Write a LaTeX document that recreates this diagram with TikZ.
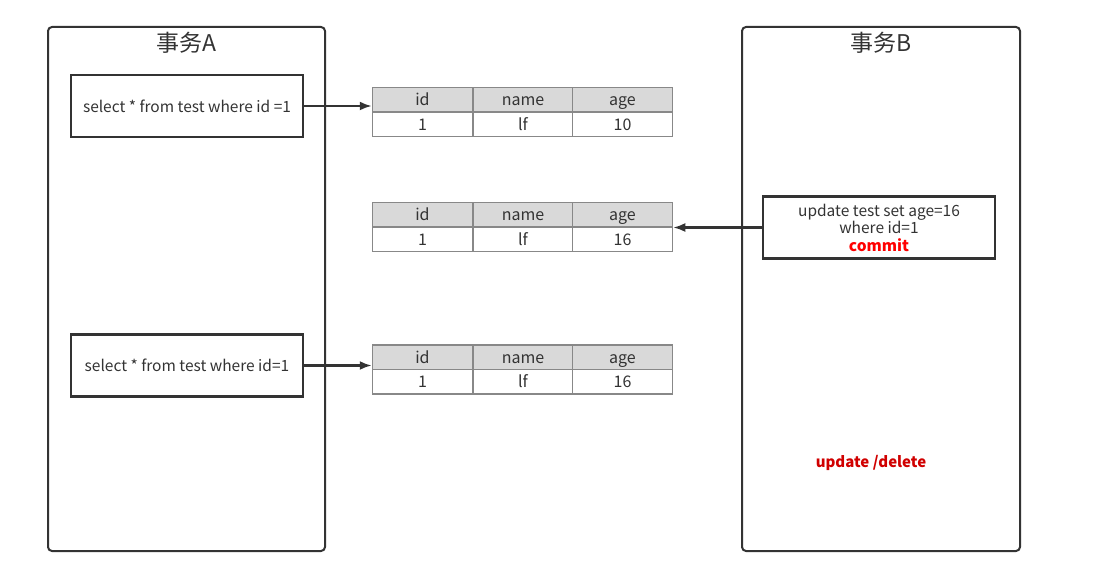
\documentclass[tikz,border=0pt]{standalone}
\usepackage{fontspec}
\setmainfont{Noto Sans CJK SC}
\usetikzlibrary{arrows.meta}
\definecolor{ink}{HTML}{333333}
\definecolor{grid}{HTML}{888888}
\definecolor{hdr}{HTML}{D9D9D9}
\definecolor{red1}{HTML}{FF0000}
\definecolor{red2}{HTML}{D00000}
\tikzset{
  container/.style={draw=ink, line width=2pt, rounded corners=4pt},
  title/.style={text=ink, font=\fontsize{23}{26}\selectfont},
  qbox/.style={draw=ink, line width=2.2pt, minimum width=232pt, minimum height=62pt, inner sep=0pt, text=ink, font=\fontsize{15.5}{17.5}\selectfont, align=center},
  hcell/.style={draw=grid, line width=1.5pt, fill=hdr, minimum width=100pt, minimum height=24.5pt, inner sep=0pt, text height=14pt, text depth=2pt, text=ink, font=\fontsize{16}{18}\selectfont},
  dcell/.style={hcell, fill=white},
  conn/.style={draw=ink, line width=2.2pt, -{Latex[length=12pt,width=9pt]}},
}
\newcommand{\dbtable}[3]{%
  \node[hcell] (#1h1) at (422.5,#2) {id};
  \node[hcell] (#1h2) at (523,#2) {name};
  \node[hcell] (#1h3) at (622.5,#2) {age};
  \node[dcell] (#1d1) at (422.5,#2+24.5) {1};
  \node[dcell] (#1d2) at (523,#2+24.5) {lf};
  \node[dcell] (#1d3) at (622.5,#2+24.5) {#3};
}
\begin{document}
\begin{tikzpicture}[x=1pt,y=-1pt]
\useasboundingbox (0,0) rectangle (1103,577);
% containers
\draw[container] (48,27) rectangle (325,551);
\node[title] (tA) at (186.5,43) {事务A};
\draw[container] (742,27) rectangle (1020,551);
\node[title] (tB) at (881,43) {事务B};
% query boxes
\node[qbox] (q1) at (187,106) {select * from test where id =1};
\node[qbox] (q2) at (187,365.5) {select * from test where id=1};
\node[qbox] (u) at (879,227.5) {update test set age=16\\where id=1\\\textcolor{red1}{\bfseries commit}};
% tables
\dbtable{a}{100}{10}
\dbtable{b}{215}{16}
\dbtable{c}{357}{16}
% connectors
\draw[conn] (q1.east) -- (q1.east -| ah1.west);
\draw[conn] (u.west) -- (u.west -| bh3.east);
\draw[conn] (q2.east) -- (q2.east -| ch1.west);
% label
\node[text=red2, font=\bfseries\fontsize{15}{17}\selectfont] (ud) at (871,463) {update /delete};
\end{tikzpicture}
\end{document}
